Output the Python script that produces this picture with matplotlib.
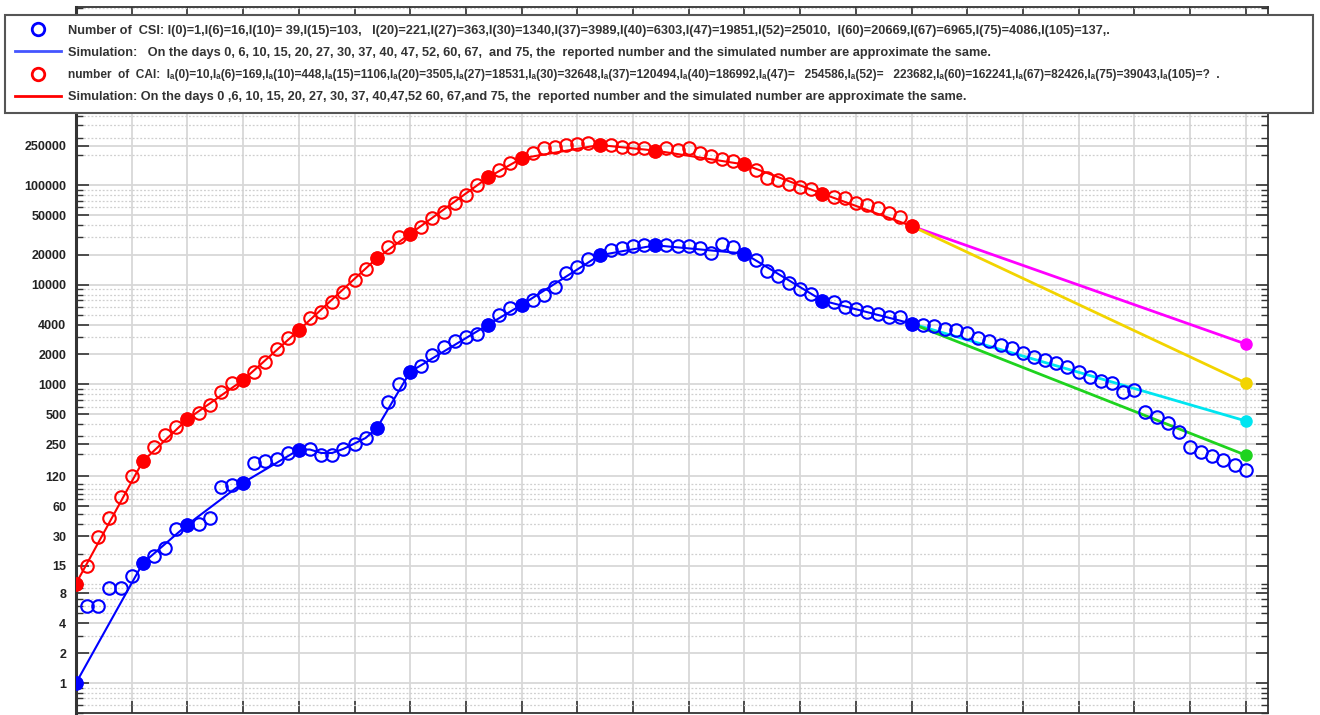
import numpy as np
import matplotlib
matplotlib.use('Agg')
from matplotlib import pyplot as plt
from matplotlib.lines import Line2D

## Reported numbers (one per day).

days_csi = list(range(0, 106))
csi_obs = [1, 6, 6, 9, 9, 12, 16, 19, 23, 35,
           39, 40, 46, 93, 98, 103, 162, 169, 178, 205,
           221, 225, 195, 195, 225, 255, 290, 363, 667, 1011,
           1340, 1535, 1977, 2380, 2736, 3000, 3220, 3989, 5000, 5880,
           6303, 7070, 7940, 9550, 13200, 15200, 18200, 19851, 22500, 23500,
           24800, 25300, 25010, 25300, 24800, 24800, 23500, 21000, 26000, 24200,
           20669, 17600, 13800, 12300, 10400, 9200, 8100, 6965, 6760, 5950,
           5700, 5360, 5160, 4730, 4730, 4086, 3940, 3850, 3570, 3520,
           3300, 2960, 2740, 2480, 2300, 2050, 1870, 1760, 1660, 1510,
           1340, 1195, 1090, 1024, 845, 880, 530, 474, 413, 336,
           237, 211, 191, 174, 155, 137]

days_cai = list(range(0, 76))
cai_obs = [10, 15, 29, 45, 74, 120, 169, 235, 310, 375,
           448, 515, 620, 840, 1035, 1106, 1340, 1680, 2270, 2930,
           3505, 4600, 5370, 6740, 8500, 11200, 14500, 18531, 24000, 30400,
           32648, 38000, 47000, 54000, 66000, 81000, 100000, 120494, 143000, 168000,
           186992, 213000, 235000, 244000, 255000, 260000, 267000, 254586, 255000, 244000,
           237000, 235000, 223682, 235000, 228000, 235000, 213000, 197000, 183000, 175000,
           162241, 143000, 119000, 113000, 103000, 96600, 92200, 82426, 76600, 74000,
           66700, 63600, 59400, 52400, 48200, 39043]

## Days where simulation and report agree (filled dots).

key_days = [0, 6, 10, 15, 20, 27, 30, 37, 40, 47, 52, 60, 67, 75]
csi_key = [1, 16, 39, 103, 221, 363, 1340, 3989, 6303, 19851, 25010, 20669, 6965, 4086]
cai_key = [10, 169, 448, 1106, 3505, 18531, 32648, 120494, 186992, 254586,
           223682, 162241, 82426, 39043]

## Simulated curves (vertices).

sim_csi_days = [0, 6, 10, 15, 20, 21, 22, 23, 24, 25, 26, 27, 30, 37, 40, 47, 52, 60, 67, 75]
sim_csi = [1, 16, 39, 103, 221, 222, 205, 205, 225, 255, 290, 363, 1340, 3989, 6303,
           19851, 25010, 20669, 6965, 4086]
sim_cai_days = key_days
sim_cai = cai_key

## Projections from day 75 to day 105.

proj_days = [75, 105]
proj_magenta = [39043, 2550]
proj_yellow = [39043, 1035]
proj_cyan = [4086, 430]
proj_green = [4086, 195]

yticks = [1, 2, 4, 8, 15, 30, 60, 120, 250, 500, 1000, 2000, 4000,
          10000, 20000, 50000, 100000, 250000]

fam = ['Liberation Sans', 'DejaVu Sans']

fig = plt.figure(figsize=(13.2, 7.15), dpi=100)
ax = fig.add_axes([76/1320, 2/715, (1268-76)/1320, (713-7)/715])

## Simulation lines and reported circles.

ax.plot(sim_csi_days, sim_csi, color='b', lw=1.5, zorder=3)
ax.plot(sim_cai_days, sim_cai, color='r', lw=1.5, zorder=3)
ax.plot(days_csi, csi_obs, 'o', mfc='none', mec='b', ms=9, mew=1.5, zorder=4)
ax.plot(days_cai, cai_obs, 'o', mfc='none', mec='r', ms=9, mew=1.5, zorder=4)
ax.plot(key_days, csi_key, 'o', color='b', ms=9, zorder=5)
ax.plot(key_days, cai_key, 'o', color='r', ms=9, zorder=5)

## Projection lines.

for vals, c in [(proj_magenta, '#ff00ff'), (proj_yellow, '#f2d400'),
                (proj_cyan, '#00e5f0'), (proj_green, '#1ed31e')]:
    ax.plot(proj_days, vals, color=c, lw=2, zorder=3)
    ax.plot(proj_days[1:], vals[1:], 'o', color=c, ms=8, zorder=5)

ax.set_yscale('log')
ax.set_xlim(0, 107)
ax.set_ylim(0.5, 6.2e6)
ax.set_xticks(np.arange(0, 107, 5))
ax.set_yticks(yticks, labels=[str(t) for t in yticks])
ax.yaxis.set_minor_locator(matplotlib.ticker.LogLocator(base=10, subs=np.arange(1, 10)))
ax.yaxis.set_minor_formatter(matplotlib.ticker.NullFormatter())
ax.tick_params(which='both', direction='in', top=True, right=True,
               labelbottom=False, color='#333333')
ax.tick_params(which='major', length=9, width=1.2, pad=7)
ax.tick_params(which='minor', length=5, width=1)
for lab in ax.get_yticklabels():
    lab.set_family(fam)
    lab.set_fontweight('bold')
    lab.set_fontsize(9)
    lab.set_color('#222222')

ax.grid(which='major', color='#d8d8d8', lw=1.3, ls='-', zorder=0)
ax.yaxis.grid(True, which='minor', color='#cfcfcf', ls=(0, (1.5, 1.5)), lw=0.9)
ax.set_axisbelow(True)
for s in ax.spines.values():
    s.set_color('#333333')
    s.set_linewidth(1.3)
ax.spines['left'].set_linewidth(2.2)

## Legend on top of the axes.

handles = [
    Line2D([], [], marker='o', ls='none', mfc='none', mec='b', ms=9, mew=2),
    Line2D([], [], color='#4455ff', lw=2),
    Line2D([], [], marker='o', ls='none', mfc='none', mec='r', ms=9, mew=2),
    Line2D([], [], color='r', lw=2),
]
labels = [
    'Number of  CSI: I(0)=1,I(6)=16,I(10)= 39,I(15)=103,   I(20)=221,I(27)=363,'
    'I(30)=1340,I(37)=3989,I(40)=6303,I(47)=19851,I(52)=25010,  I(60)=20669,'
    'I(67)=6965,I(75)=4086,I(105)=137,.',
    'Simulation:   On the days 0, 6, 10, 15, 20, 27, 30, 37, 40, 47, 52, 60, 67,  '
    'and 75, the  reported number and the simulated number are approximate the same.',
    'number  of  CAI:  Iₐ(0)=10,Iₐ(6)=169,Iₐ(10)=448,Iₐ(15)=1106,'
    'Iₐ(20)=3505,Iₐ(27)=18531,Iₐ(30)=32648,Iₐ(37)=120494,'
    'Iₐ(40)=186992,Iₐ(47)=   254586,Iₐ(52)=   223682,Iₐ(60)=162241,'
    'Iₐ(67)=82426,Iₐ(75)=39043,Iₐ(105)=?  .',
    'Simulation: On the days 0 ,6, 10, 15, 20, 27, 30, 37, 40,47,52 60, 67,and 75, '
    'the  reported number and the simulated number are approximate the same.',
]
leg = fig.legend(handles, labels, loc='upper left', mode='expand',
                 bbox_to_anchor=(5/1320, 1-110/715, 1308/1320, 95/715),
                 prop={'family': fam, 'weight': 'bold', 'size': 9.2},
                 handlelength=3.6, handletextpad=0.6, borderpad=0.75,
                 labelspacing=0.8, borderaxespad=0, fancybox=False,
                 framealpha=1)
leg.get_frame().set_edgecolor('#555555')
leg.get_frame().set_linewidth(1.5)
for t in leg.get_texts():
    t.set_color('#333333')
leg.get_texts()[2].set_fontsize(8.6)

fig.savefig('out.png', dpi=100)
